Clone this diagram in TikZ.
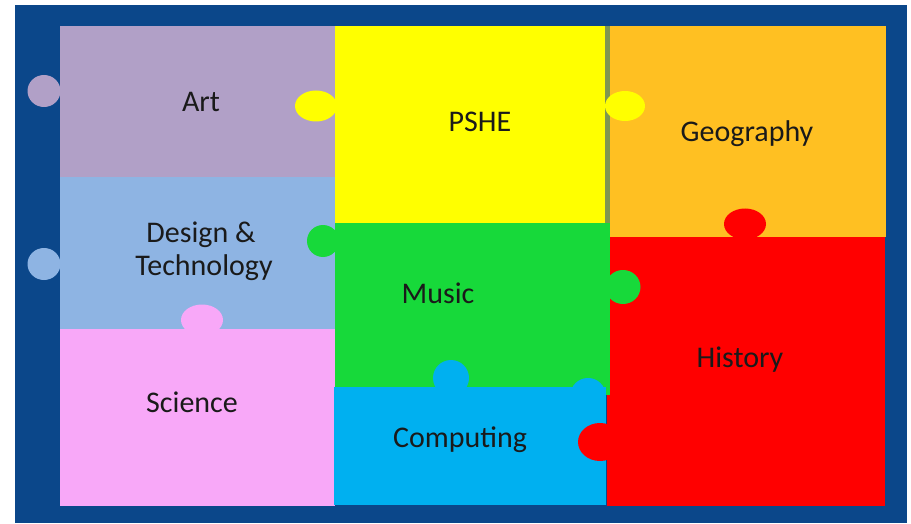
\documentclass[tikz,border=0pt]{standalone}
\usepackage{fontspec}
\setmainfont{Carlito}
\definecolor{bgblue}{HTML}{0B478A}
\definecolor{artc}{HTML}{B1A0C7}
\definecolor{psheC}{HTML}{FFFF00}
\definecolor{geoc}{HTML}{FFC022}
\definecolor{histc}{HTML}{FF0000}
\definecolor{dtc}{HTML}{8EB4E3}
\definecolor{musc}{HTML}{17D93A}
\definecolor{scic}{HTML}{F8A8F8}
\definecolor{compc}{HTML}{00B0F0}
\definecolor{gapc}{HTML}{7E9650}
\definecolor{txtc}{HTML}{1A1A1A}
\begin{document}
\begin{tikzpicture}[x=1pt,y=-1pt,
  label/.style={font=\fontsize{30}{32}\selectfont, text=txtc, anchor=base, inner sep=0pt}]
\useasboundingbox (0,0) rectangle (911,524);
\fill[white] (0,0) rectangle (911,524);
\fill[bgblue] (15,5) rectangle (907,523);
% pieces
\fill[artc] (60,26) rectangle (335,177);
\fill[dtc] (60,177) rectangle (335,329);
\fill[scic] (60,329) rectangle (335,506);
\fill[psheC] (335,26) rectangle (605,223);
\fill[gapc] (605,26) rectangle (610,223);
\fill[geoc] (610,26) rectangle (886,237);
\fill[histc] (607,237) rectangle (885,506);
\fill[musc] (335,223) rectangle (610,395);
\fill[compc] (334,387) rectangle (606,505);
% tabs
\fill[artc] (44,91) ellipse [x radius=16.5, y radius=16];
\fill[dtc] (44,264) ellipse [x radius=16.5, y radius=16];
\fill[psheC] (316,106) ellipse [x radius=21, y radius=15.5];
\fill[psheC] (625,106) ellipse [x radius=20, y radius=15];
\fill[histc] (745,224) ellipse [x radius=21, y radius=15.5];
\fill[musc] (323,241) ellipse [x radius=16, y radius=16];
\fill[musc] (623,287) ellipse [x radius=17.5, y radius=17];
\fill[scic] (202,320) ellipse [x radius=21, y radius=15.5];
\fill[compc] (451,378) ellipse [x radius=18, y radius=18];
\fill[compc] (588,395) ellipse [x radius=17.5, y radius=17];
\fill[histc] (600,442) ellipse [x radius=22, y radius=19];
% labels
\node[label] (art) at (201,112) {Art};
\node[label] (pshe) at (480,132) {PSHE};
\node[label] (geo) at (747,142) {Geography};
\node[label] (dt1) at (201,242) {Design \&};
\node[label] (dt2) at (204,275) {Technology};
\node[label] (music) at (438,303) {Music};
\node[label] (hist) at (740,367) {History};
\node[label] (sci) at (192,412) {Science};
\node[label] (comp) at (460,447) {Computing};
\end{tikzpicture}
\end{document}
